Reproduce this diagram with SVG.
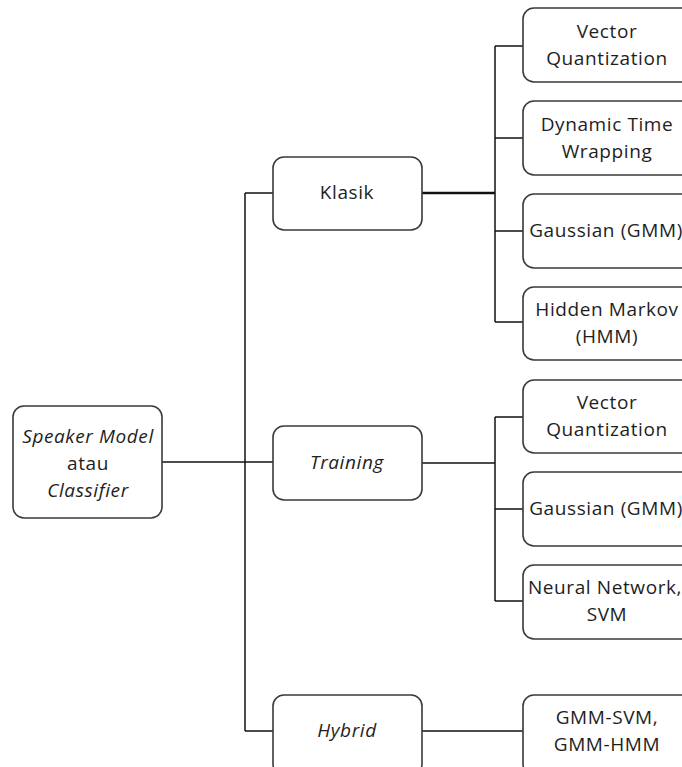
<svg xmlns="http://www.w3.org/2000/svg" width="682" height="767" viewBox="0 0 682 767">
<style>
.box{fill:#fff;stroke:#3a3a3a;stroke-width:1.6}
.ln{fill:none;stroke:#111;stroke-width:1.5}
.thick{stroke-width:2.6}
text{font-family:"Open Sans","Liberation Sans",sans-serif;font-size:19px;letter-spacing:0.6px;fill:#1e1e1e;text-anchor:middle}
.it{font-style:italic}
</style>
<rect width="682" height="767" fill="#fff"/>
<g id="connectors">
<path class="ln" d="M162 462H273"/>
<path class="ln" d="M245 193V731"/>
<path class="ln" d="M245 193H273"/>
<path class="ln" d="M245 731H273"/>
<path class="ln thick" d="M422 193H495"/>
<path class="ln" d="M495 46V322"/>
<path class="ln" d="M495 46H523M495 138H523M495 231H523M495 322H523"/>
<path class="ln" d="M422 463H495"/>
<path class="ln" d="M495 417V601"/>
<path class="ln" d="M495 417H523M495 509H523M495 601H523"/>
<path class="ln" d="M422 731H523"/>
</g>
<g id="root"><rect class="box" x="13" y="406" width="149" height="112" rx="11"/>
<text x="88" y="443" class="it">Speaker Model</text><text x="88" y="470">atau</text><text x="88" y="497" class="it">Classifier</text></g>
<g id="klasik"><rect class="box" x="273" y="157" width="149" height="73" rx="11"/><text x="347" y="199">Klasik</text></g>
<g id="training"><rect class="box" x="273" y="426" width="149" height="74" rx="11"/><text x="347" y="469" class="it">Training</text></g>
<g id="hybrid"><rect class="box" x="273" y="695" width="149" height="80" rx="11"/><text x="347" y="737" class="it">Hybrid</text></g>
<g id="k-vq"><rect class="box" x="523" y="8" width="170" height="74" rx="11"/><text x="607" y="38">Vector</text><text x="607" y="65">Quantization</text></g>
<g id="k-dtw"><rect class="box" x="523" y="101" width="170" height="74" rx="11"/><text x="607" y="131">Dynamic Time</text><text x="607" y="158">Wrapping</text></g>
<g id="k-gmm"><rect class="box" x="523" y="194" width="170" height="74" rx="11"/><text x="606" y="237">Gaussian (GMM)</text></g>
<g id="k-hmm"><rect class="box" x="523" y="287" width="170" height="73" rx="11"/><text x="607" y="316">Hidden Markov</text><text x="607" y="343">(HMM)</text></g>
<g id="t-vq"><rect class="box" x="523" y="380" width="170" height="73" rx="11"/><text x="607" y="409">Vector</text><text x="607" y="436">Quantization</text></g>
<g id="t-gmm"><rect class="box" x="523" y="472" width="170" height="74" rx="11"/><text x="606" y="515">Gaussian (GMM)</text></g>
<g id="t-nn"><rect class="box" x="523" y="565" width="170" height="74" rx="11"/><text x="605" y="594">Neural Network,</text><text x="607" y="621">SVM</text></g>
<g id="h-gmm"><rect class="box" x="523" y="695" width="170" height="80" rx="11"/><text x="607" y="724">GMM-SVM,</text><text x="607" y="751">GMM-HMM</text></g>
</svg>
